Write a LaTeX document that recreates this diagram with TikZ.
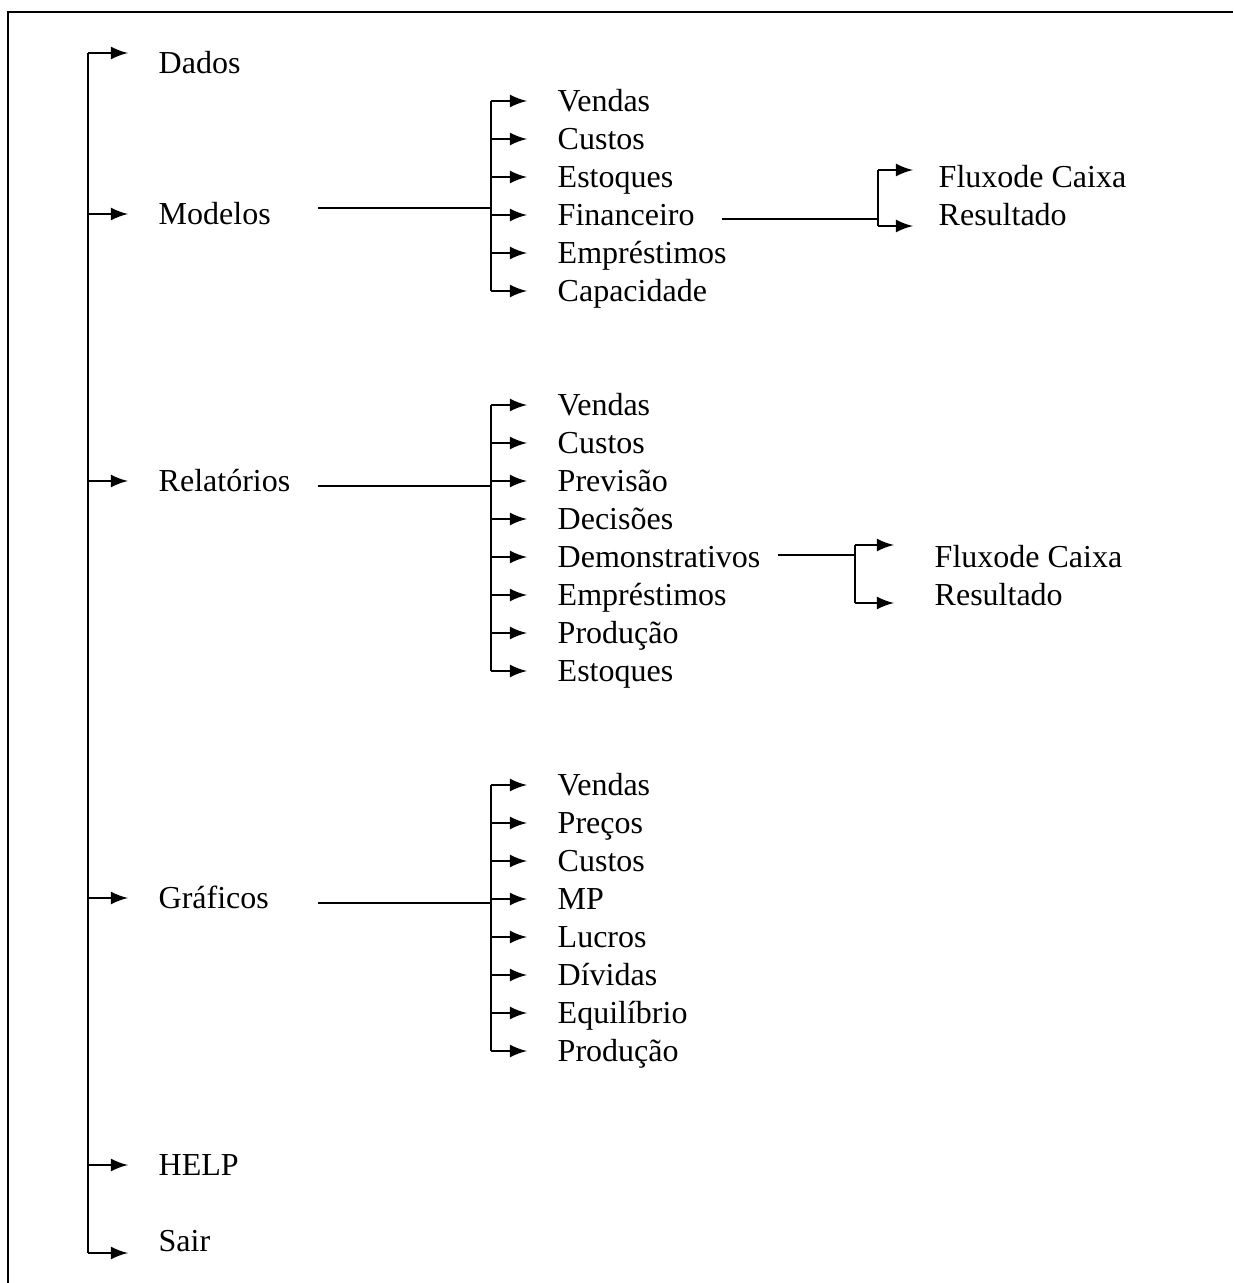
\documentclass[tikz,border=0pt]{standalone}
\usepackage{fontspec}
\setmainfont{Liberation Serif}
\usepackage{tikz}
\usetikzlibrary{arrows}
\tikzstyle{line} = [line width=0.7pt]
\tikzstyle{arrow} = [line width=0.7pt, ->, >=latex, shorten >=0.3cm]
\tikzstyle{item} = [anchor=west, inner sep=0pt, text height=6.2pt, text depth=0pt, font=\fontsize{9.1}{11}\selectfont]

\begin{document}
\begin{tikzpicture}[x=0.01cm, y=-0.01cm]
	\useasboundingbox (0,0) rectangle (1233,1283);
	\coordinate (trunktop) at (88,53);
	\coordinate (trunkbot) at (88,1253);
	\coordinate (mline) at (318,208);
	\coordinate (mjoint) at (491,208);
	\coordinate (rline) at (318,486);
	\coordinate (rjoint) at (491,486);
	\coordinate (gline) at (318,903);
	\coordinate (gjoint) at (491,903);
	\coordinate (fline) at (722,219);
	\coordinate (fjoint) at (878,219);
	\coordinate (ftop) at (878,170);
	\coordinate (fbot) at (878,226);
	\coordinate (dline) at (778,555);
	\coordinate (djoint) at (855,555);
	\coordinate (dtop) at (855,545);
	\coordinate (dbot) at (855,603);
	% frame
	\draw[line] (1233,12) -- (8,12) -- (8,1283);
	% Main menu
	\begin{scope}[every node/.style={item}]
	\node[name=dados] at (158,63) {Dados};
	\node[name=modelos] at (158,214) {Modelos};
	\node[name=relatorios] at (158,481) {Relatórios};
	\node[name=graficos] at (158,898) {Gráficos};
	\node[name=help] at (158,1165) {HELP};
	\node[name=sair] at (158,1241) {Sair};
	\end{scope}
	% Modelos
	\begin{scope}[every node/.style={item}]
	\node[name=mvendas] at (557,101) {Vendas};
	\node[name=mcustos] at (557,139) {Custos};
	\node[name=mestoques] at (557,177) {Estoques};
	\node[name=mfinanceiro] at (557,215) {Financeiro};
	\node[name=memprestimos] at (557,253) {Empréstimos};
	\node[name=mcapacidade] at (557,291) {Capacidade};
	\node[name=ffluxo] at (938,177) {Fluxode Caixa};
	\node[name=fresultado] at (938,215) {Resultado};
	\end{scope}
	% Relatorios
	\begin{scope}[every node/.style={item}]
	\node[name=rvendas] at (557,405) {Vendas};
	\node[name=rcustos] at (557,443) {Custos};
	\node[name=rprevisao] at (557,481) {Previsão};
	\node[name=rdecisoes] at (557,519) {Decisões};
	\node[name=rdemonstr] at (557,557) {Demonstrativos};
	\node[name=remprestimos] at (557,595) {Empréstimos};
	\node[name=rproducao] at (557,633) {Produção};
	\node[name=restoques] at (557,671) {Estoques};
	\node[name=dfluxo] at (934,557) {Fluxode Caixa};
	\node[name=dresultado] at (934,595) {Resultado};
	\end{scope}
	% Graficos
	\begin{scope}[every node/.style={item}]
	\node[name=gvendas] at (557,785) {Vendas};
	\node[name=gprecos] at (557,823) {Preços};
	\node[name=gcustos] at (557,861) {Custos};
	\node[name=gmp] at (557,899) {MP};
	\node[name=glucros] at (557,937) {Lucros};
	\node[name=gdividas] at (557,975) {Dívidas};
	\node[name=gequilibrio] at (557,1013) {Equilíbrio};
	\node[name=gproducao] at (557,1051) {Produção};
	\end{scope}
	% main trunk
	\draw[line] (trunktop) -- (trunkbot);
	\draw [arrow] (trunktop) -- (trunktop -| dados.west);
	\draw [arrow] (modelos.west -| trunktop) -- (modelos.west);
	\draw [arrow] (relatorios.west -| trunktop) -- (relatorios.west);
	\draw [arrow] (graficos.west -| trunktop) -- (graficos.west);
	\draw [arrow] (help.west -| trunktop) -- (help.west);
	\draw [arrow] (trunkbot) -- (trunkbot -| sair.west);
	% Modelos branch
	\draw[line] (mline) -- (mjoint);
	\draw[line] (mvendas.west -| mjoint) -- (mcapacidade.west -| mjoint);
	\draw [arrow] (mvendas.west -| mjoint) -- (mvendas.west);
	\draw [arrow] (mcustos.west -| mjoint) -- (mcustos.west);
	\draw [arrow] (mestoques.west -| mjoint) -- (mestoques.west);
	\draw [arrow] (mfinanceiro.west -| mjoint) -- (mfinanceiro.west);
	\draw [arrow] (memprestimos.west -| mjoint) -- (memprestimos.west);
	\draw [arrow] (mcapacidade.west -| mjoint) -- (mcapacidade.west);
	\draw[line] (fline) -- (fjoint);
	\draw[line] (ftop) -- (fbot);
	\draw [arrow, shorten >=0.25cm] (ftop) -- (ftop -| ffluxo.west);
	\draw [arrow, shorten >=0.25cm] (fbot) -- (fbot -| fresultado.west);
	% Relatorios branch
	\draw[line] (rline) -- (rjoint);
	\draw[line] (rvendas.west -| rjoint) -- (restoques.west -| rjoint);
	\draw [arrow] (rvendas.west -| rjoint) -- (rvendas.west);
	\draw [arrow] (rcustos.west -| rjoint) -- (rcustos.west);
	\draw [arrow] (rprevisao.west -| rjoint) -- (rprevisao.west);
	\draw [arrow] (rdecisoes.west -| rjoint) -- (rdecisoes.west);
	\draw [arrow] (rdemonstr.west -| rjoint) -- (rdemonstr.west);
	\draw [arrow] (remprestimos.west -| rjoint) -- (remprestimos.west);
	\draw [arrow] (rproducao.west -| rjoint) -- (rproducao.west);
	\draw [arrow] (restoques.west -| rjoint) -- (restoques.west);
	\draw[line] (dline) -- (djoint);
	\draw[line] (dtop) -- (dbot);
	\draw [arrow, shorten >=0.4cm] (dtop) -- (dtop -| dfluxo.west);
	\draw [arrow, shorten >=0.4cm] (dbot) -- (dbot -| dresultado.west);
	% Graficos branch
	\draw[line] (gline) -- (gjoint);
	\draw[line] (gvendas.west -| gjoint) -- (gproducao.west -| gjoint);
	\draw [arrow] (gvendas.west -| gjoint) -- (gvendas.west);
	\draw [arrow] (gprecos.west -| gjoint) -- (gprecos.west);
	\draw [arrow] (gcustos.west -| gjoint) -- (gcustos.west);
	\draw [arrow] (gmp.west -| gjoint) -- (gmp.west);
	\draw [arrow] (glucros.west -| gjoint) -- (glucros.west);
	\draw [arrow] (gdividas.west -| gjoint) -- (gdividas.west);
	\draw [arrow] (gequilibrio.west -| gjoint) -- (gequilibrio.west);
	\draw [arrow] (gproducao.west -| gjoint) -- (gproducao.west);
\end{tikzpicture}
\end{document}
